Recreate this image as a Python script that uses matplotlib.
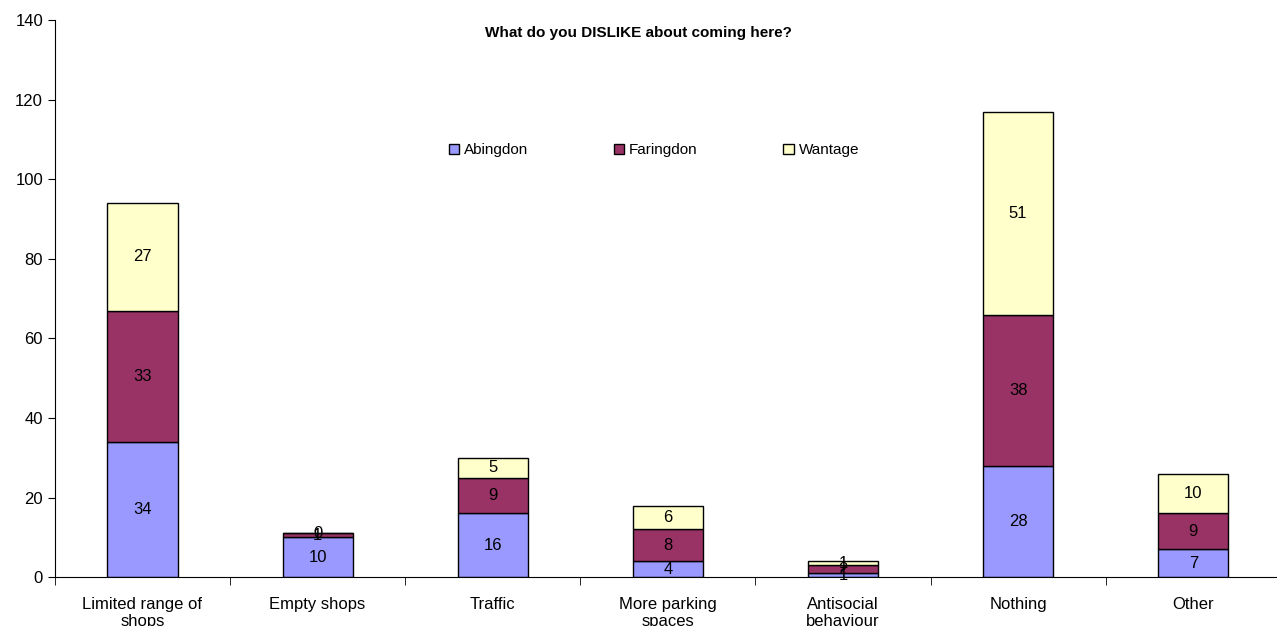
import numpy as np
import matplotlib.pyplot as plt

plt.rcParams['font.family'] = ['Liberation Sans', 'DejaVu Sans']

categories = ["Limited range of\nshops", "Empty shops", "Traffic", "More parking\nspaces",
              "Antisocial\nbehaviour", "Nothing", "Other"]
abingdon = [34, 10, 16, 4, 1, 28, 7]
faringdon = [33, 1, 9, 8, 2, 38, 9]
wantage = [27, 0, 5, 6, 1, 51, 10]

series = [("Abingdon", abingdon, "#9999FF"),
          ("Faringdon", faringdon, "#993366"),
          ("Wantage", wantage, "#FFFFCC")]

fig = plt.figure(figsize=(12.77, 6.26), dpi=100)
ax = fig.add_axes([0.043, 0.078, 0.96, 0.89])

x = np.arange(len(categories))
bottom = np.zeros(len(categories))
for name, vals, col in series:
    vals = np.array(vals, dtype=float)
    ax.bar(x, vals, width=0.4, bottom=bottom, color=col, edgecolor="black",
           linewidth=1, label=name)
    # value label in the middle of each segment
    for xi, b, v in zip(x, bottom, vals):
        ax.text(xi, b + v / 2, f"{int(v)}", ha="center", va="center", fontsize=12)
    bottom += vals

ax.set_xlim(-0.5, len(categories) - 0.5)
ax.set_ylim(0, 140)
ax.set_yticks(range(0, 141, 20))
ax.set_xticks(x)
ax.set_xticklabels(categories, fontsize=12, linespacing=1.2)
ax.tick_params(axis="x", which="major", length=0, pad=14)
ax.set_xticks(np.arange(-0.5, len(categories), 1), minor=True)
ax.tick_params(axis="x", which="minor", length=6, direction="out")
ax.tick_params(axis="y", labelsize=12, length=5, direction="out")

for side in ["top", "right"]:
    ax.spines[side].set_visible(False)

fig.text(0.5, 0.958, "What do you DISLIKE about coming here?",
         ha="center", va="top", fontsize=11, fontweight="bold")
fig.legend(loc="center", bbox_to_anchor=(0.512, 0.76), ncol=3, frameon=False,
           fontsize=11, columnspacing=5.6, handlelength=0.7, handleheight=0.7,
           handletextpad=0.3)

fig.savefig("out.png", dpi=100)
